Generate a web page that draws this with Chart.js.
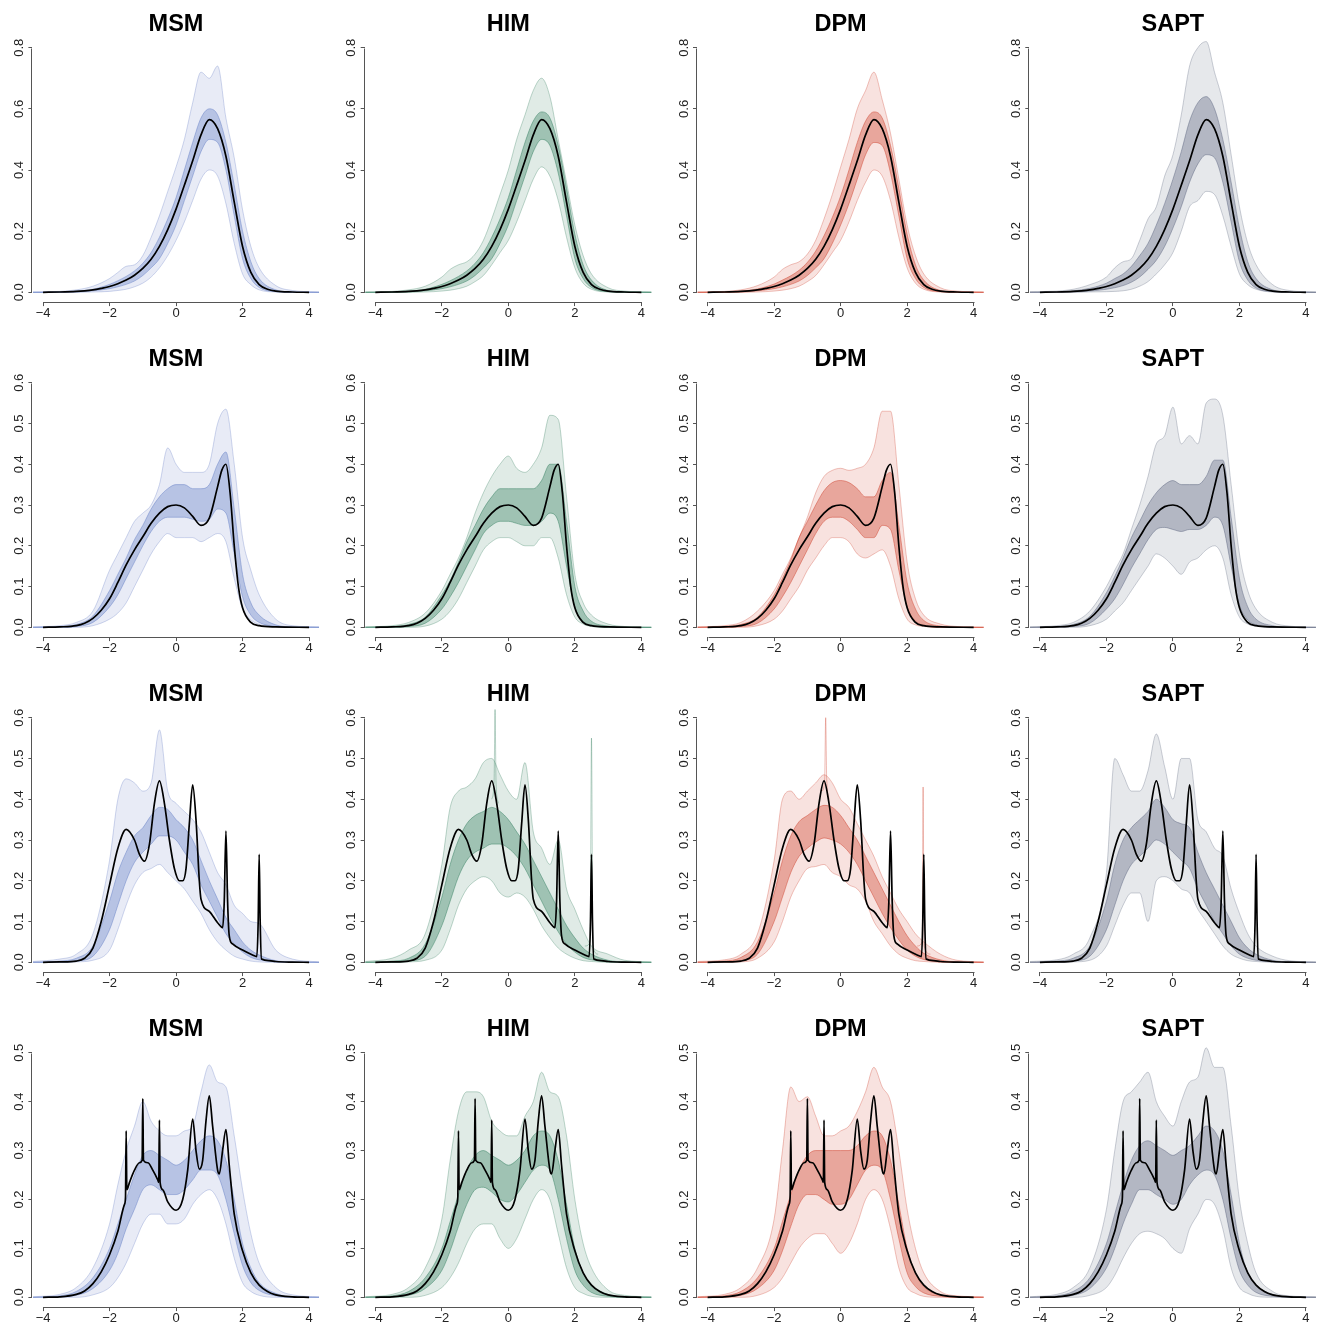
<!DOCTYPE html>
<html>
<head>
<meta charset="utf-8">
<script src="https://cdn.jsdelivr.net/npm/chart.js@4.4.0/dist/chart.umd.min.js"></script>
<style>
body { margin: 0; background: #fff; overflow: hidden; }
#wrap { position: relative; width: 1318px; height: 1322px; overflow: hidden; }
#wrap canvas { position: absolute; }
.ttl { position: absolute; width: 200px; text-align: center; font: bold 23.5px "Liberation Sans", Arial, sans-serif; line-height: 1; color: #000; }
</style>
</head>
<body>
<div id="wrap"></div>
<script>
// x grid shared by the posterior bands
const gx = [-4.3,-3.5,-3,-2.5,-2,-1.75,-1.5,-1.25,-1,-0.75,-0.5,-0.25,0,0.25,0.5,0.75,1,1.25,1.5,1.75,2,2.25,2.5,3,3.5,4.3];

// true densities (black lines)
const truth1X = [-4,-3.5,-3,-2.75,-2.5,-2.25,-2,-1.75,-1.5,-1.25,-1,-0.75,-0.5,-0.25,0,0.25,0.5,0.75,1,1.25,1.5,1.75,2,2.25,2.5,2.75,3,3.5,4];
const truth1Y = [0,0.001,0.003,0.005,0.008,0.013,0.019,0.028,0.040,0.056,0.078,0.108,0.150,0.205,0.272,0.350,0.430,0.515,0.565,0.535,0.445,0.295,0.150,0.065,0.025,0.010,0.004,0.001,0];
const truth2X = [-4,-3.5,-3,-2.75,-2.5,-2.25,-2,-1.75,-1.5,-1.25,-1,-0.75,-0.5,-0.25,0,0.25,0.5,0.75,1,1.25,1.375,1.5,1.625,1.75,1.875,2,2.25,2.5,3,4];
const truth2Y = [0,0.001,0.004,0.010,0.022,0.042,0.070,0.110,0.153,0.190,0.222,0.255,0.280,0.296,0.300,0.293,0.272,0.250,0.268,0.345,0.385,0.400,0.330,0.200,0.100,0.048,0.012,0.004,0.001,0];
const truth3X = [-4,-3.5,-3,-2.75,-2.5,-2.25,-2,-1.75,-1.5,-1.25,-1.1,-0.95,-0.8,-0.65,-0.5,-0.35,-0.2,-0.05,0.1,0.2,0.3,0.4,0.5,0.6,0.7,0.75,1,1.25,1.4,1.45,1.5,1.55,1.6,1.7,2,2.3,2.43,2.47,2.5,2.53,2.57,2.8,3,3.5,4];
const truth3Y = [0,0.001,0.003,0.010,0.035,0.100,0.190,0.280,0.326,0.300,0.265,0.248,0.290,0.390,0.445,0.390,0.300,0.230,0.200,0.200,0.230,0.340,0.435,0.350,0.200,0.155,0.125,0.097,0.085,0.150,0.322,0.150,0.065,0.045,0.030,0.018,0.014,0.100,0.265,0.100,0.008,0.004,0.002,0.0005,0];
const truth4X = [-4,-3.5,-3,-2.75,-2.5,-2.25,-2,-1.75,-1.55,-1.52,-1.5,-1.48,-1.4,-1.25,-1.1,-1.02,-1,-0.98,-0.85,-0.7,-0.55,-0.52,-0.5,-0.48,-0.4,-0.25,0,0.2,0.35,0.5,0.6,0.7,0.8,0.9,1,1.1,1.25,1.3,1.4,1.5,1.6,1.75,2,2.25,2.5,2.75,3,3.5,4];
const truth4Y = [0,0.001,0.006,0.013,0.028,0.052,0.087,0.135,0.190,0.205,0.340,0.220,0.235,0.260,0.275,0.280,0.406,0.280,0.275,0.260,0.240,0.235,0.362,0.235,0.220,0.195,0.178,0.200,0.260,0.364,0.300,0.262,0.280,0.360,0.412,0.350,0.260,0.252,0.300,0.343,0.270,0.170,0.095,0.050,0.025,0.012,0.005,0.001,0];

// posterior bands: outer envelope (hi/lo) and dense core (cHi/cLo), one set per panel
const msm1Hi  = [0.001,0.003,0.008,0.02,0.045,0.065,0.085,0.09,0.12,0.18,0.25,0.33,0.41,0.50,0.62,0.72,0.70,0.74,0.57,0.44,0.27,0.15,0.08,0.022,0.006,0.001];
const msm1Lo  = [0,0,0,0.001,0.003,0.006,0.01,0.018,0.03,0.05,0.08,0.12,0.17,0.23,0.30,0.37,0.40,0.38,0.29,0.16,0.06,0.025,0.008,0.001,0,0];
const msm1CHi = [0,0.001,0.004,0.01,0.026,0.038,0.052,0.07,0.095,0.13,0.18,0.24,0.31,0.40,0.49,0.57,0.60,0.58,0.49,0.35,0.20,0.10,0.045,0.008,0.001,0];
const msm1CLo = [0,0,0.001,0.005,0.012,0.018,0.026,0.037,0.055,0.08,0.11,0.16,0.22,0.30,0.38,0.46,0.50,0.49,0.40,0.25,0.11,0.045,0.016,0.002,0,0];
const him1Hi  = [0.001,0.003,0.008,0.02,0.05,0.075,0.09,0.10,0.125,0.17,0.24,0.32,0.40,0.50,0.58,0.66,0.70,0.64,0.50,0.36,0.22,0.12,0.06,0.015,0.004,0.001];
const him1Lo  = [0,0,0,0.001,0.004,0.007,0.012,0.02,0.035,0.055,0.09,0.13,0.17,0.23,0.30,0.37,0.41,0.38,0.30,0.18,0.08,0.03,0.01,0.001,0,0];
const him1CHi = [0,0.001,0.004,0.01,0.026,0.038,0.052,0.07,0.095,0.13,0.18,0.24,0.31,0.40,0.49,0.56,0.59,0.57,0.48,0.34,0.19,0.09,0.04,0.006,0.001,0];
const him1CLo = [0,0,0.001,0.005,0.012,0.018,0.026,0.037,0.055,0.08,0.11,0.16,0.22,0.30,0.38,0.46,0.50,0.48,0.39,0.25,0.11,0.045,0.016,0.002,0,0];
const dpm1Hi  = [0.001,0.003,0.008,0.022,0.05,0.075,0.09,0.10,0.125,0.17,0.24,0.32,0.41,0.50,0.60,0.66,0.72,0.63,0.52,0.37,0.22,0.12,0.06,0.015,0.004,0.001];
const dpm1Lo  = [0,0,0,0.001,0.004,0.007,0.012,0.02,0.035,0.055,0.09,0.13,0.17,0.23,0.30,0.36,0.40,0.38,0.30,0.18,0.08,0.03,0.01,0.001,0,0];
const dpm1CHi = [0,0.001,0.004,0.011,0.027,0.04,0.054,0.072,0.098,0.135,0.185,0.245,0.315,0.40,0.49,0.56,0.59,0.57,0.48,0.34,0.19,0.09,0.04,0.006,0.001,0];
const dpm1CLo = [0,0,0.001,0.005,0.012,0.018,0.026,0.037,0.055,0.08,0.11,0.16,0.22,0.29,0.37,0.45,0.49,0.48,0.39,0.25,0.11,0.045,0.016,0.002,0,0];
const sapt1Hi  = [0.002,0.004,0.01,0.025,0.05,0.08,0.10,0.11,0.17,0.24,0.28,0.38,0.45,0.58,0.74,0.80,0.82,0.72,0.62,0.45,0.28,0.16,0.09,0.025,0.006,0.001];
const sapt1Lo  = [0,0,0,0.001,0.002,0.003,0.005,0.01,0.02,0.035,0.06,0.09,0.13,0.20,0.28,0.30,0.33,0.32,0.25,0.15,0.06,0.025,0.01,0.001,0,0];
const sapt1CHi = [0,0.001,0.005,0.013,0.03,0.045,0.06,0.085,0.12,0.16,0.22,0.29,0.37,0.46,0.56,0.62,0.64,0.60,0.50,0.36,0.21,0.10,0.045,0.008,0.001,0];
const sapt1CLo = [0,0,0.001,0.004,0.01,0.015,0.022,0.033,0.05,0.075,0.105,0.15,0.21,0.28,0.36,0.42,0.45,0.44,0.36,0.23,0.10,0.04,0.014,0.002,0,0];

const msm2Hi  = [0.001,0.004,0.012,0.04,0.14,0.18,0.22,0.26,0.28,0.30,0.35,0.44,0.40,0.38,0.38,0.38,0.40,0.50,0.535,0.40,0.22,0.14,0.08,0.02,0.004,0.001];
const msm2Lo  = [0,0,0,0.004,0.02,0.035,0.06,0.10,0.14,0.18,0.21,0.23,0.22,0.22,0.22,0.21,0.22,0.23,0.21,0.12,0.045,0.018,0.007,0.001,0,0];
const msm2CHi = [0,0.002,0.007,0.028,0.09,0.13,0.17,0.215,0.25,0.29,0.32,0.34,0.35,0.35,0.34,0.34,0.35,0.40,0.43,0.29,0.13,0.06,0.03,0.006,0.001,0];
const msm2CLo = [0,0,0.002,0.012,0.05,0.08,0.12,0.16,0.20,0.235,0.26,0.27,0.27,0.27,0.265,0.26,0.265,0.29,0.28,0.18,0.075,0.03,0.012,0.002,0,0];
const him2Hi  = [0.001,0.004,0.012,0.035,0.09,0.13,0.17,0.22,0.28,0.33,0.37,0.40,0.42,0.39,0.38,0.40,0.44,0.52,0.51,0.32,0.13,0.06,0.03,0.008,0.002,0];
const him2Lo  = [0,0,0,0.003,0.02,0.04,0.07,0.11,0.15,0.19,0.21,0.22,0.22,0.21,0.20,0.20,0.22,0.22,0.17,0.08,0.025,0.008,0.002,0,0,0];
const him2CHi = [0,0.002,0.007,0.025,0.08,0.115,0.16,0.21,0.25,0.29,0.32,0.34,0.34,0.34,0.34,0.34,0.36,0.40,0.40,0.26,0.10,0.04,0.015,0.003,0,0];
const him2CLo = [0,0,0.002,0.01,0.045,0.075,0.11,0.15,0.19,0.23,0.25,0.26,0.26,0.255,0.25,0.25,0.26,0.28,0.26,0.15,0.05,0.015,0.005,0,0,0];
const dpm2Hi  = [0.001,0.004,0.012,0.04,0.09,0.13,0.17,0.22,0.27,0.33,0.37,0.385,0.39,0.385,0.39,0.40,0.44,0.53,0.53,0.35,0.16,0.07,0.03,0.008,0.002,0];
const dpm2Lo  = [0,0,0,0.004,0.02,0.04,0.07,0.10,0.14,0.17,0.20,0.22,0.22,0.21,0.18,0.17,0.18,0.19,0.15,0.07,0.02,0.006,0.002,0,0,0];
const dpm2CHi = [0,0.002,0.007,0.025,0.08,0.12,0.165,0.22,0.26,0.30,0.335,0.355,0.36,0.355,0.34,0.32,0.32,0.36,0.38,0.25,0.11,0.045,0.017,0.003,0,0];
const dpm2CLo = [0,0,0.002,0.01,0.045,0.075,0.11,0.15,0.19,0.23,0.26,0.27,0.27,0.26,0.24,0.22,0.22,0.25,0.24,0.14,0.05,0.015,0.005,0,0,0];
const sapt2Hi  = [0.001,0.004,0.012,0.04,0.10,0.14,0.18,0.24,0.30,0.37,0.45,0.47,0.54,0.45,0.47,0.45,0.55,0.56,0.52,0.35,0.18,0.09,0.045,0.012,0.003,0];
const sapt2Lo  = [0,0,0,0.004,0.02,0.04,0.06,0.09,0.12,0.15,0.18,0.17,0.15,0.13,0.16,0.17,0.19,0.20,0.17,0.08,0.025,0.008,0.003,0,0,0];
const sapt2CHi = [0,0.002,0.007,0.027,0.085,0.125,0.17,0.22,0.26,0.30,0.33,0.35,0.36,0.35,0.35,0.35,0.37,0.41,0.41,0.27,0.12,0.05,0.02,0.004,0,0];
const sapt2CLo = [0,0,0.002,0.01,0.045,0.07,0.105,0.145,0.18,0.215,0.24,0.245,0.24,0.235,0.24,0.24,0.25,0.27,0.25,0.15,0.055,0.018,0.006,0,0,0];

const msm3Hi  = [0.002,0.008,0.02,0.07,0.25,0.40,0.45,0.44,0.42,0.44,0.57,0.42,0.39,0.37,0.35,0.32,0.27,0.22,0.19,0.14,0.12,0.10,0.095,0.03,0.008,0.001];
const msm3Lo  = [0,0,0.001,0.005,0.03,0.08,0.14,0.19,0.22,0.23,0.24,0.22,0.20,0.18,0.15,0.12,0.08,0.05,0.03,0.015,0.008,0.003,0.001,0,0,0];
const msm3CHi = [0,0.003,0.01,0.04,0.15,0.22,0.27,0.31,0.33,0.36,0.38,0.375,0.35,0.33,0.30,0.25,0.20,0.155,0.11,0.08,0.05,0.03,0.018,0.004,0.001,0];
const msm3CLo = [0,0,0.003,0.015,0.08,0.14,0.20,0.245,0.27,0.29,0.31,0.31,0.30,0.27,0.24,0.19,0.15,0.11,0.07,0.045,0.025,0.012,0.006,0.001,0,0];
const him3Hi  = [0.002,0.01,0.03,0.07,0.24,0.38,0.42,0.43,0.45,0.49,0.50,0.46,0.42,0.40,0.49,0.32,0.28,0.24,0.30,0.18,0.13,0.08,0.04,0.02,0.005,0.001];
const him3Lo  = [0,0,0.001,0.005,0.03,0.08,0.14,0.18,0.20,0.21,0.20,0.17,0.16,0.17,0.16,0.13,0.09,0.06,0.035,0.02,0.01,0.004,0.002,0,0,0];
const him3CHi = [0,0.003,0.01,0.045,0.16,0.24,0.30,0.34,0.36,0.37,0.38,0.37,0.35,0.32,0.29,0.25,0.21,0.17,0.13,0.09,0.06,0.035,0.02,0.005,0.001,0];
const him3CLo = [0,0,0.003,0.015,0.09,0.15,0.21,0.25,0.27,0.28,0.29,0.29,0.28,0.26,0.23,0.19,0.15,0.11,0.075,0.045,0.025,0.012,0.006,0.001,0,0];
const dpm3Hi  = [0.002,0.006,0.02,0.07,0.25,0.40,0.42,0.40,0.42,0.44,0.46,0.44,0.40,0.38,0.34,0.30,0.26,0.21,0.17,0.13,0.10,0.07,0.05,0.02,0.005,0.001];
const dpm3Lo  = [0,0,0.001,0.01,0.05,0.10,0.16,0.20,0.23,0.235,0.24,0.22,0.21,0.19,0.18,0.15,0.10,0.07,0.04,0.02,0.01,0.004,0.002,0,0,0];
const dpm3CHi = [0,0.003,0.012,0.05,0.17,0.25,0.31,0.345,0.36,0.375,0.385,0.38,0.36,0.33,0.30,0.26,0.22,0.18,0.14,0.10,0.065,0.04,0.022,0.006,0.001,0];
const dpm3CLo = [0,0.001,0.004,0.02,0.10,0.16,0.22,0.26,0.28,0.295,0.305,0.30,0.29,0.27,0.24,0.20,0.16,0.12,0.085,0.055,0.03,0.015,0.007,0.001,0,0];
const sapt3Hi  = [0.002,0.006,0.02,0.06,0.22,0.50,0.46,0.42,0.42,0.47,0.56,0.48,0.40,0.50,0.50,0.35,0.32,0.28,0.26,0.18,0.12,0.07,0.04,0.015,0.004,0.001];
const sapt3Lo  = [0,0,0.001,0.005,0.04,0.09,0.14,0.17,0.17,0.10,0.20,0.21,0.20,0.18,0.17,0.13,0.10,0.07,0.04,0.02,0.01,0.004,0.002,0,0,0];
const sapt3CHi = [0,0.003,0.01,0.04,0.15,0.24,0.30,0.33,0.35,0.37,0.40,0.38,0.35,0.34,0.33,0.27,0.22,0.18,0.14,0.10,0.06,0.035,0.02,0.005,0.001,0];
const sapt3CLo = [0,0,0.003,0.015,0.08,0.14,0.20,0.24,0.26,0.28,0.30,0.29,0.27,0.25,0.23,0.18,0.14,0.10,0.07,0.04,0.02,0.01,0.005,0.001,0,0];

const msm4Hi  = [0.001,0.006,0.02,0.06,0.15,0.23,0.30,0.35,0.40,0.36,0.34,0.33,0.33,0.34,0.35,0.42,0.475,0.44,0.43,0.33,0.22,0.13,0.07,0.02,0.005,0.001];
const msm4Lo  = [0,0,0,0.005,0.02,0.04,0.07,0.11,0.15,0.17,0.17,0.15,0.15,0.16,0.19,0.21,0.22,0.20,0.15,0.08,0.03,0.012,0.004,0,0,0];
const msm4CHi = [0,0.003,0.012,0.04,0.10,0.15,0.20,0.25,0.29,0.30,0.29,0.28,0.27,0.28,0.30,0.32,0.33,0.32,0.28,0.20,0.11,0.06,0.03,0.008,0.001,0];
const msm4CLo = [0,0.001,0.004,0.018,0.055,0.09,0.14,0.18,0.22,0.23,0.22,0.21,0.21,0.22,0.24,0.26,0.26,0.25,0.20,0.13,0.065,0.03,0.014,0.003,0,0];
const him4Hi  = [0.001,0.006,0.02,0.06,0.16,0.28,0.38,0.42,0.42,0.41,0.36,0.34,0.33,0.33,0.37,0.40,0.46,0.42,0.41,0.33,0.20,0.11,0.06,0.015,0.004,0.001];
const him4Lo  = [0,0,0,0.004,0.02,0.04,0.07,0.11,0.14,0.15,0.15,0.12,0.10,0.12,0.16,0.20,0.22,0.20,0.13,0.06,0.02,0.008,0.002,0,0,0];
const him4CHi = [0,0.003,0.012,0.04,0.10,0.155,0.21,0.26,0.29,0.30,0.29,0.28,0.27,0.28,0.30,0.33,0.34,0.33,0.28,0.19,0.10,0.05,0.025,0.006,0.001,0];
const him4CLo = [0,0.001,0.004,0.018,0.055,0.095,0.145,0.19,0.22,0.225,0.215,0.20,0.195,0.21,0.235,0.26,0.27,0.26,0.20,0.12,0.055,0.025,0.01,0.002,0,0];
const dpm4Hi  = [0.001,0.006,0.02,0.06,0.16,0.30,0.43,0.40,0.41,0.37,0.33,0.33,0.34,0.35,0.38,0.42,0.47,0.43,0.40,0.30,0.18,0.10,0.05,0.012,0.003,0.001];
const dpm4Lo  = [0,0,0,0.004,0.02,0.04,0.07,0.10,0.12,0.13,0.13,0.11,0.09,0.11,0.15,0.20,0.22,0.20,0.14,0.06,0.02,0.008,0.002,0,0,0];
const dpm4CHi = [0,0.003,0.012,0.04,0.10,0.155,0.21,0.26,0.29,0.30,0.30,0.30,0.30,0.30,0.31,0.33,0.34,0.33,0.28,0.19,0.10,0.05,0.022,0.005,0.001,0];
const dpm4CLo = [0,0.001,0.004,0.018,0.055,0.095,0.145,0.19,0.21,0.21,0.20,0.19,0.19,0.20,0.23,0.26,0.27,0.26,0.20,0.12,0.05,0.022,0.009,0.002,0,0];
const sapt4Hi  = [0.001,0.006,0.02,0.06,0.18,0.30,0.40,0.42,0.44,0.46,0.40,0.37,0.35,0.40,0.44,0.45,0.51,0.47,0.47,0.35,0.20,0.11,0.05,0.012,0.003,0.001];
const sapt4Lo  = [0,0,0,0.004,0.02,0.045,0.08,0.11,0.13,0.135,0.13,0.12,0.10,0.09,0.14,0.17,0.20,0.19,0.14,0.06,0.02,0.008,0.002,0,0,0];
const sapt4CHi = [0,0.003,0.012,0.04,0.11,0.17,0.23,0.28,0.31,0.32,0.31,0.30,0.29,0.30,0.31,0.33,0.35,0.34,0.30,0.21,0.11,0.05,0.025,0.006,0.001,0];
const sapt4CLo = [0,0.001,0.004,0.018,0.06,0.10,0.15,0.19,0.22,0.22,0.21,0.20,0.19,0.20,0.23,0.25,0.26,0.25,0.20,0.12,0.055,0.025,0.01,0.002,0,0];

// single thin spikes seen in row 3
const him3SpikeAX = [-0.5,-0.43,-0.4,-0.37,-0.3];
const him3SpikeAY = [0.40,0.44,0.62,0.44,0.39];
const him3SpikeBX = [2.3,2.46,2.5,2.54,2.7];
const him3SpikeBY = [0.04,0.05,0.55,0.04,0.02];
const dpm3SpikeAX = [-0.55,-0.48,-0.45,-0.42,-0.35];
const dpm3SpikeAY = [0.42,0.45,0.60,0.45,0.40];
const dpm3SpikeBX = [2.3,2.45,2.48,2.51,2.7];
const dpm3SpikeBY = [0.04,0.05,0.43,0.04,0.02];

const methods = ['MSM', 'HIM', 'DPM', 'SAPT'];
const yMax = [0.8, 0.6, 0.6, 0.5];
const yStep = [0.2, 0.1, 0.1, 0.1];
const xTicks = [-4, -2, 0, 2, 4];

const rgb = { MSM: '98,124,196', HIM: '45,122,90', DPM: '205,60,40', SAPT: '88,98,124' };

const truths = [[truth1X, truth1Y], [truth2X, truth2Y], [truth3X, truth3Y], [truth4X, truth4Y]];
const bands = [
  { MSM: [msm1Hi, msm1Lo, msm1CHi, msm1CLo], HIM: [him1Hi, him1Lo, him1CHi, him1CLo], DPM: [dpm1Hi, dpm1Lo, dpm1CHi, dpm1CLo], SAPT: [sapt1Hi, sapt1Lo, sapt1CHi, sapt1CLo] },
  { MSM: [msm2Hi, msm2Lo, msm2CHi, msm2CLo], HIM: [him2Hi, him2Lo, him2CHi, him2CLo], DPM: [dpm2Hi, dpm2Lo, dpm2CHi, dpm2CLo], SAPT: [sapt2Hi, sapt2Lo, sapt2CHi, sapt2CLo] },
  { MSM: [msm3Hi, msm3Lo, msm3CHi, msm3CLo], HIM: [him3Hi, him3Lo, him3CHi, him3CLo], DPM: [dpm3Hi, dpm3Lo, dpm3CHi, dpm3CLo], SAPT: [sapt3Hi, sapt3Lo, sapt3CHi, sapt3CLo] },
  { MSM: [msm4Hi, msm4Lo, msm4CHi, msm4CLo], HIM: [him4Hi, him4Lo, him4CHi, him4CLo], DPM: [dpm4Hi, dpm4Lo, dpm4CHi, dpm4CLo], SAPT: [sapt4Hi, sapt4Lo, sapt4CHi, sapt4CLo] }
];
const spikes = {
  '2-HIM': [[him3SpikeAX, him3SpikeAY], [him3SpikeBX, him3SpikeBY]],
  '2-DPM': [[dpm3SpikeAX, dpm3SpikeAY], [dpm3SpikeBX, dpm3SpikeBY]]
};

const pts = (xs, ys) => xs.map((x, i) => ({ x: x, y: ys[i] }));

// R-style axis lines that only span the first to last tick
const axisLines = {
  id: 'axisLines',
  afterDraw(chart) {
    const { ctx, chartArea: a, scales: { x, y } } = chart;
    const top = chart.options.plugins.axisLines.top;
    ctx.save();
    ctx.strokeStyle = '#555';
    ctx.lineWidth = 1;
    ctx.beginPath();
    ctx.moveTo(Math.round(x.getPixelForValue(-4)) + 0.5, Math.round(a.bottom) + 0.5);
    ctx.lineTo(Math.round(x.getPixelForValue(4)) + 0.5, Math.round(a.bottom) + 0.5);
    ctx.moveTo(Math.round(a.left) - 0.5, Math.round(y.getPixelForValue(0)) + 0.5);
    ctx.lineTo(Math.round(a.left) - 0.5, Math.round(y.getPixelForValue(top)) + 0.5);
    ctx.stroke();
    ctx.restore();
  }
};

const wrap = document.getElementById('wrap');
const tickFont = { family: '"Liberation Sans", Arial, sans-serif', size: 13 };
const colStep = 332.3;

methods.forEach((m, col) => {
  for (let row = 0; row < 4; row++) {
    const left = Math.floor(colStep * col);
    const yAxisW = 32.4 + colStep * col - left;
    const canvas = document.createElement('canvas');
    canvas.width = 332;
    canvas.height = 335;
    canvas.style.left = left + 'px';
    canvas.style.top = (335 * row) + 'px';
    wrap.appendChild(canvas);

    const ttl = document.createElement('div');
    ttl.className = 'ttl';
    ttl.textContent = m;
    ttl.style.left = (176 + colStep * col - 100) + 'px';
    ttl.style.top = (11.8 + 335 * row) + 'px';
    wrap.appendChild(ttl);

    const c = rgb[m];
    const [hi, lo, cHi, cLo] = bands[row][m];
    const datasets = [
      { data: pts(truths[row][0], truths[row][1]), borderColor: '#000', borderWidth: 1.7, order: 0 },
      { data: pts(gx, hi), borderColor: `rgba(${c},0.3)`, borderWidth: 1, backgroundColor: `rgba(${c},0.15)`, fill: '+1', order: 5 },
      { data: pts(gx, lo), borderColor: `rgba(${c},0.3)`, borderWidth: 1, order: 5 },
      { data: pts(gx, cHi), borderColor: `rgba(${c},0.45)`, borderWidth: 1, backgroundColor: `rgba(${c},0.36)`, fill: '+1', order: 3 },
      { data: pts(gx, cLo), borderColor: `rgba(${c},0.45)`, borderWidth: 1, order: 3 }
    ];
    (spikes[row + '-' + m] || []).forEach(s => {
      datasets.push({ data: pts(s[0], s[1]), borderColor: `rgba(${c},0.35)`, borderWidth: 1, order: 2 });
    });

    const top = yMax[row];
    const pad = top * 0.04;
    const yTicks = [];
    for (let k = 0; k <= Math.round(top / yStep[row]); k++) yTicks.push(+(k * yStep[row]).toFixed(1));

    new Chart(canvas, {
      type: 'scatter',
      data: { datasets: datasets },
      options: {
        responsive: false,
        animation: false,
        showLine: true,
        layout: { padding: { left: 0, top: 37.9, right: 332 - yAxisW - 287.3, bottom: 0 } },
        elements: {
          point: { radius: 0 },
          line: { cubicInterpolationMode: 'monotone', fill: false }
        },
        plugins: {
          legend: { display: false },
          tooltip: { enabled: false },
          axisLines: { top: top }
        },
        scales: {
          x: {
            type: 'linear', min: -4.32, max: 4.32,
            afterBuildTicks: s => { s.ticks = xTicks.map(v => ({ value: v })); },
            afterFit: s => { s.height = 32.9; },
            border: { display: false },
            grid: { drawOnChartArea: false, drawTicks: true, tickLength: 4, color: '#555' },
            ticks: {
              padding: 0, color: '#222', font: tickFont, maxRotation: 0,
              callback: v => (v < 0 ? '\u2212' + Math.abs(v) : String(v))
            }
          },
          y: {
            type: 'linear', min: -pad, max: top + pad,
            afterBuildTicks: s => { s.ticks = yTicks.map(v => ({ value: v })); },
            afterFit: s => { s.width = yAxisW; },
            border: { display: false },
            grid: { drawOnChartArea: false, drawTicks: true, tickLength: 4, color: '#555' },
            ticks: {
              padding: 0, color: '#222', font: tickFont,
              minRotation: 90, maxRotation: 90, crossAlign: 'center',
              callback: v => v.toFixed(1)
            }
          }
        }
      },
      plugins: [axisLines]
    });
  }
});
</script>
</body>
</html>
